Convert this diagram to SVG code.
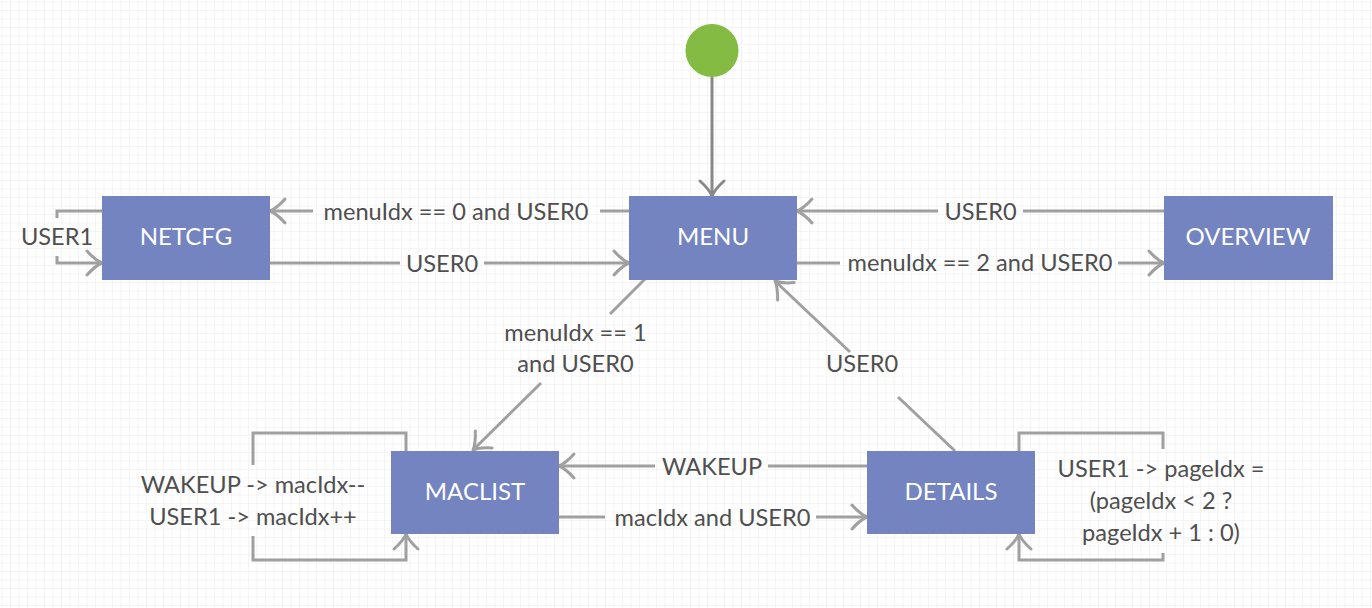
<svg xmlns="http://www.w3.org/2000/svg" width="1372" height="608" viewBox="0 0 1372 608">
<defs>
<pattern id="grid" width="8.5" height="8.5" patternUnits="userSpaceOnUse" x="2.5" y="2.5">
<path d="M8.5 0 V8.5 M0 8.5 H8.5" fill="none" stroke="#ebebeb" stroke-width="1"/>
</pattern>
<marker id="arr" viewBox="-18 -15 21 30" refX="0" refY="0" markerUnits="userSpaceOnUse" markerWidth="21" markerHeight="30" orient="auto">
<path d="M-15,-12 Q-7,-3 0,0 Q-7,3 -15,12" fill="none" stroke="#a0a0a0" stroke-width="3" stroke-linecap="round" stroke-linejoin="round"/>
</marker>
<marker id="arrD" viewBox="-18 -15 21 30" refX="0" refY="0" markerUnits="userSpaceOnUse" markerWidth="21" markerHeight="30" orient="auto">
<path d="M-15,-12 Q-7,-3 0,0 Q-7,3 -15,12" fill="none" stroke="#888888" stroke-width="3" stroke-linecap="round" stroke-linejoin="round"/>
</marker>
</defs>
<style>
.node rect{fill:#7384c0}
.node text{fill:#ffffff;font-family:Lato,"Liberation Sans",sans-serif;font-size:24px;text-anchor:middle}
.c{fill:none;stroke:#a0a0a0;stroke-width:3}
.ca{fill:none;stroke:#a0a0a0;stroke-width:3;marker-end:url(#arr)}
.lbl{fill:#4f4f4f;font-family:Lato,"Liberation Sans",sans-serif;font-size:23.6px;text-anchor:middle}
</style>
<rect width="1372" height="608" fill="#ffffff"/>
<rect width="1372" height="608" fill="url(#grid)"/>

<g id="connectors">
<!-- start -->
<path d="M712,77 V196" fill="none" stroke="#888888" stroke-width="3" marker-end="url(#arrD)"/>
<!-- MENU -> NETCFG -->
<path class="c" d="M629,211 H600"/>
<path class="ca" d="M313,211 H270"/>
<text class="lbl" x="456" y="220">menuIdx == 0 and USER0</text>
<!-- NETCFG -> MENU -->
<path class="c" d="M270,263 H400"/>
<path class="ca" d="M484,263 H629"/>
<text class="lbl" x="442" y="272">USER0</text>
<!-- OVERVIEW -> MENU -->
<path class="c" d="M1164,211 H1023"/>
<path class="ca" d="M938,211 H797"/>
<text class="lbl" x="980.5" y="220">USER0</text>
<!-- MENU -> OVERVIEW -->
<path class="c" d="M797,263 H840"/>
<path class="ca" d="M1118,263 H1164"/>
<text class="lbl" x="980" y="271">menuIdx == 2 and USER0</text>
<!-- NETCFG self loop -->
<path class="c" d="M102,211 H57 V218"/>
<path class="ca" d="M57,256 V263 H102"/>
<text class="lbl" x="57" y="245">USER1</text>
<!-- MENU -> MACLIST -->
<path class="c" d="M645,279 L610,314"/>
<path class="ca" d="M541,383 L473,450"/>
<text class="lbl" x="575.5" y="341">menuIdx == 1</text>
<text class="lbl" x="575.5" y="372">and USER0</text>
<!-- DETAILS -> MENU -->
<path class="c" d="M955,451 L898,397"/>
<path class="ca" d="M850,352 L775,281"/>
<text class="lbl" x="862" y="372">USER0</text>
<!-- DETAILS -> MACLIST -->
<path class="c" d="M867,466 H768"/>
<path class="ca" d="M655,466 H559"/>
<text class="lbl" x="712" y="475">WAKEUP</text>
<!-- MACLIST -> DETAILS -->
<path class="c" d="M559,517 H605"/>
<path class="ca" d="M816,517 H867"/>
<text class="lbl" x="712.5" y="526">macIdx and USER0</text>
<!-- MACLIST self loop -->
<path class="c" d="M406,451 V433 H253 V465"/>
<path class="ca" d="M253,536 V560 H406 V534"/>
<text class="lbl" x="253" y="493">WAKEUP -&gt; macIdx--</text>
<text class="lbl" x="253" y="525">USER1 -&gt; macIdx++</text>
<!-- DETAILS self loop -->
<path class="c" d="M1019,451 V433 H1163 V449"/>
<path class="ca" d="M1163,553 V560 H1019 V534"/>
<text class="lbl" x="1161" y="477">USER1 -&gt; pageIdx =</text>
<text class="lbl" x="1161" y="509">(pageIdx &lt; 2 ?</text>
<text class="lbl" x="1161" y="541">pageIdx + 1 : 0)</text>
</g>

<g id="start"><circle cx="712" cy="50.5" r="26.5" fill="#83bb43"/></g>
<g id="netcfg" class="node"><rect x="102" y="196" width="168" height="84"/><text x="186" y="245">NETCFG</text></g>
<g id="menu" class="node"><rect x="629" y="196" width="168" height="84"/><text x="713" y="245">MENU</text></g>
<g id="overview" class="node"><rect x="1164" y="196" width="169" height="84"/><text x="1248" y="245">OVERVIEW</text></g>
<g id="maclist" class="node"><rect x="391" y="451" width="168" height="83"/><text x="475" y="500">MACLIST</text></g>
<g id="details" class="node"><rect x="867" y="451" width="168" height="83"/><text x="951" y="500">DETAILS</text></g>
</svg>
